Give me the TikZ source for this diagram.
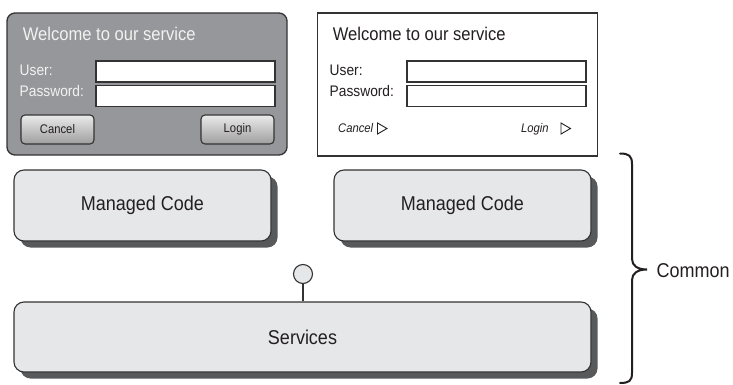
\documentclass[tikz,border=0pt]{standalone}
\usepackage{fontspec}
\setmainfont{Liberation Sans}[FakeStretch=0.9]
\usetikzlibrary{shadows}
\definecolor{panelgray}{HTML}{96979A}
\definecolor{boxfill}{HTML}{E6E7E9}
\definecolor{inkc}{HTML}{231F20}
\definecolor{shadowc}{HTML}{58595B}
\definecolor{edgec}{HTML}{333333}
\tikzset{
  panelL/.style={draw=edgec, line width=1.3pt, fill=panelgray, rounded corners=8pt, minimum width=280pt, minimum height=142pt, inner sep=0pt},
  panelR/.style={draw=edgec, line width=1.3pt, fill=white, minimum width=280pt, minimum height=143pt, inner sep=0pt},
  inbox/.style={draw=edgec, line width=1.2pt, fill=white, minimum width=179pt, minimum height=21pt, inner sep=0pt},
  btn/.style={draw=edgec, line width=1.1pt, rounded corners=4pt, top color=white!92!black, bottom color=black!38, minimum width=73pt, minimum height=29pt, inner sep=0pt, text=inkc, font=\fontsize{12.5}{14}\selectfont},
  lbl/.style={anchor=base west, inner sep=0pt},
  title/.style={lbl, font=\fontsize{18.4}{20}\selectfont},
  field/.style={lbl, font=\fontsize{15.3}{17}\selectfont},
  mc/.style={draw=edgec, line width=1.1pt, fill=boxfill, rounded corners=10pt, inner sep=0pt, text=inkc, font=\fontsize{20}{22}\selectfont,
     drop shadow={shadow xshift=6.5pt, shadow yshift=-6.5pt, fill=shadowc, opacity=1}},
  tri/.style={draw=inkc, line width=0.9pt, line join=miter},
}
\begin{document}
\begin{tikzpicture}[x=1pt,y=-1pt]
\useasboundingbox (0,0) rectangle (733,385);
% left (dark) panel
\node[panelL] (pl) at (147,84) {};
\node[title, text=white!95!black] (tl) at (22.7,40.7) {Welcome to our service};
\node[field, text=white!95!black] (ul) at (19.5,76) {User:};
\node[field, text=white!95!black] (pwl) at (19.5,96.7) {Password:};
\node[inbox] (uinl) at (185.5,71.5) {};
\node[inbox] (pinl) at (185.5,96) {};
\node[btn] (cbl) at (57.5,129.5) {Cancel};
\node[btn] (lbl) at (237.5,129.5) {Login};
% right (sketch) panel
\node[panelR] (pr) at (457.5,84.5) {};
\node[title, text=inkc] (tr) at (332.7,40.7) {Welcome to our service};
\node[field, text=inkc] (ur) at (329.5,76) {User:};
\node[field, text=inkc] (pwr) at (329.5,96.7) {Password:};
\node[inbox] (uinr) at (496.5,71.5) {};
\node[inbox] (pinr) at (496.5,96) {};
\node[lbl, text=inkc, font=\fontsize{12.5}{14}\selectfont\itshape] (cr) at (338,132.5) {Cancel};
\node[lbl, text=inkc, font=\fontsize{12.5}{14}\selectfont\itshape] (lr) at (521,132.5) {Login};
\draw[tri] (377.5,123) -- (387,128.5) -- (377.5,134) -- cycle;
\draw[tri] (561,123) -- (570.5,128.5) -- (561,134) -- cycle;
% managed code boxes
\node[mc, minimum width=257pt, minimum height=71pt] (mc1) at (142.5,205.5) {Managed Code};
\node[mc, minimum width=257pt, minimum height=71pt] (mc2) at (462.5,205.5) {Managed Code};
% services
\node[mc, minimum width=577pt, minimum height=70pt] (svc) at (302.5,337) {Services};
\node[circle, draw=edgec, line width=1.1pt, fill=boxfill, minimum size=19pt, inner sep=0pt] (ifc) at (303,274) {};
\draw[edgec, line width=1.1pt] (ifc.south) -- (ifc.south |- svc.north);
% brace
\draw[inkc, line width=2pt, line cap=round] (620,153.5) .. controls (629,153.5) and (632,156) .. (632,164) -- (632,259)
   .. controls (632,266) and (638,269.5) .. (647,269.5)
   .. controls (638,269.5) and (632,273) .. (632,280) -- (632,373)
   .. controls (632,381) and (629,383) .. (620,383);
\node[lbl, text=inkc, font=\fontsize{20}{22}\selectfont] (common) at (656.5,277.7) {Common};
\end{tikzpicture}
\end{document}
